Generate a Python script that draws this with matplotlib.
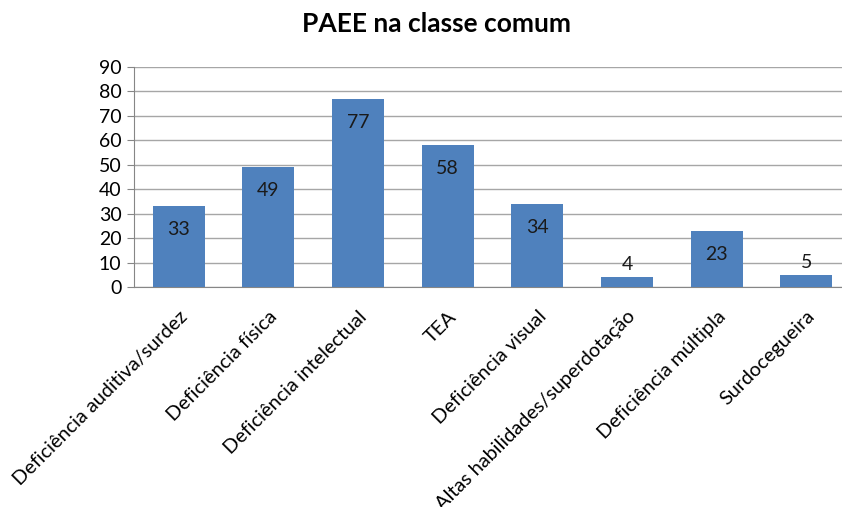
import numpy as np
import matplotlib
matplotlib.use('Agg')
import matplotlib.pyplot as plt

categories = ['Deficiência auditiva/surdez', 'Deficiência física', 'Deficiência intelectual',
              'TEA', 'Deficiência visual', 'Altas habilidades/superdotação',
              'Deficiência múltipla', 'Surdocegueira']
values = [33, 49, 77, 58, 34, 4, 23, 5]
yticks = list(range(0, 100, 10))

plt.rcParams['font.family'] = ['Lato', 'DejaVu Sans']

fig = plt.figure(figsize=(8.42, 5.07), dpi=100)
ax = fig.add_axes([134 / 842, 220 / 507, 717 / 842, 220 / 507])

x = np.arange(len(categories))
ax.bar(x, values, width=0.58, color='#4F81BD', zorder=3)

# data labels: inside end for tall bars, above for short ones
for xi, v in zip(x, values):
    if v > 15:
        ax.text(xi, v - 9.5, str(v), ha='center', va='center', fontsize=14, color='#1a1a1a', zorder=4)
    else:
        ax.text(xi, v + 5, str(v), ha='center', va='center', fontsize=14, color='#1a1a1a', zorder=4)

ax.set_xlim(-0.5, len(categories) - 0.5)
ax.set_ylim(0, 90)
ax.set_yticks(yticks)
ax.set_yticklabels([str(t) for t in yticks], fontsize=14)
ax.set_xticks(x)
ax.set_xticklabels(categories, rotation=45, ha='right', rotation_mode='anchor', fontsize=14.3)
ax.tick_params(axis='x', length=0, pad=15)
ax.tick_params(axis='y', length=5, color='#868686', pad=4)

ax.grid(axis='y', color='#a6a6a6', linewidth=1, zorder=0)
for s in ['top', 'right']:
    ax.spines[s].set_visible(False)
ax.spines['left'].set_color('#868686')
ax.spines['bottom'].set_color('#868686')

fig.text(437 / 842, 1 - 24 / 507, 'PAEE na classe comum', ha='center', va='center',
         fontsize=19, fontweight='bold')

fig.savefig('out.png', dpi=100)
